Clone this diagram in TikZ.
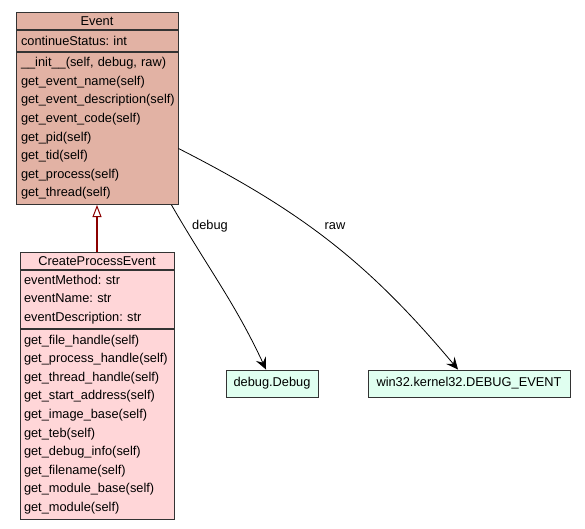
\documentclass[tikz,border=0pt]{standalone}
\usepackage{fontspec}
\setmainfont{Liberation Sans}
\usetikzlibrary{arrows.meta,positioning}
\definecolor{eventfill}{HTML}{E2B2A4}
\definecolor{cpefill}{HTML}{FFD6D8}
\definecolor{reffill}{HTML}{E0FFF0}
\definecolor{inhred}{HTML}{8B0000}
\frenchspacing

\begin{document}
\begin{tikzpicture}[
  x=1pt, y=1pt,
  umlfont/.style={font=\fontsize{12.8}{18.6}\selectfont},
  head/.style={umlfont, draw=black!80, line width=1pt, minimum height=17pt,
               inner sep=0pt, anchor=north},
  part/.style={umlfont, draw=black!80, line width=1pt, inner ysep=0pt,
               align=left, anchor=north},
  evtpart/.style={part, fill=eventfill, text width=152pt, inner xsep=5pt},
  cpepart/.style={part, fill=cpefill, text width=146pt, inner xsep=4pt},
  refbox/.style={umlfont, draw=black!80, line width=1pt, fill=reffill,
                 minimum height=27pt, inner sep=0pt},
  dep/.style={-{Stealth[length=12pt,width=11pt,inset=4.5pt]}, line width=0.8pt},
  inh/.style={-{Triangle[open,length=12pt,width=9pt,line width=1pt,fill=white]},
              line width=2pt, inhred},
  lbl/.style={umlfont, inner sep=0pt}
]
\useasboundingbox (0,0) rectangle (585,-528);

% Event class
\node[head, fill=eventfill, minimum width=162pt] (event) at (97,-12) {Event};
\node[evtpart, minimum height=21pt, below=0pt of event] (event-attr)
  {continueStatus: int};
\node[evtpart, minimum height=152pt, below=0pt of event-attr] (event-ops)
  {\_\_init\_\_(self, debug, raw)\\
   get\_event\_name(self)\\
   get\_event\_description(self)\\
   get\_event\_code(self)\\
   get\_pid(self)\\
   get\_tid(self)\\
   get\_process(self)\\
   get\_thread(self)};

% CreateProcessEvent class
\node[head, fill=cpefill, minimum width=154pt] (cpe) at (97,-252) {CreateProcessEvent};
\node[cpepart, minimum height=58pt, below=0pt of cpe] (cpe-attr)
  {eventMethod: str\\
   eventName: str\\
   eventDescription: str};
\node[cpepart, minimum height=190pt, below=0pt of cpe-attr] (cpe-ops)
  {get\_file\_handle(self)\\
   get\_process\_handle(self)\\
   get\_thread\_handle(self)\\
   get\_start\_address(self)\\
   get\_image\_base(self)\\
   get\_teb(self)\\
   get\_debug\_info(self)\\
   get\_filename(self)\\
   get\_module\_base(self)\\
   get\_module(self)};

% referenced types
\node[refbox, minimum width=92pt] (dbg) at (272,-383.5) {debug.Debug};
\node[refbox, minimum width=202pt] (w32) at (469,-383.5) {win32.kernel32.DEBUG\_EVENT};

% connectors
\draw[inh] (cpe.north) -- (event-ops.south);
\draw[dep] ([xshift=-7pt]event-ops.south east) to[out=-60,in=115] ([xshift=-6pt]dbg.north);
\draw[dep] ([yshift=-20pt]event-ops.east) to[out=-27,in=130] ([xshift=-11pt]w32.north);
\node[lbl] (debug-lbl) at (210,-226) {debug};
\node[lbl] (raw-lbl) at (335,-226) {raw};
\end{tikzpicture}
\end{document}
